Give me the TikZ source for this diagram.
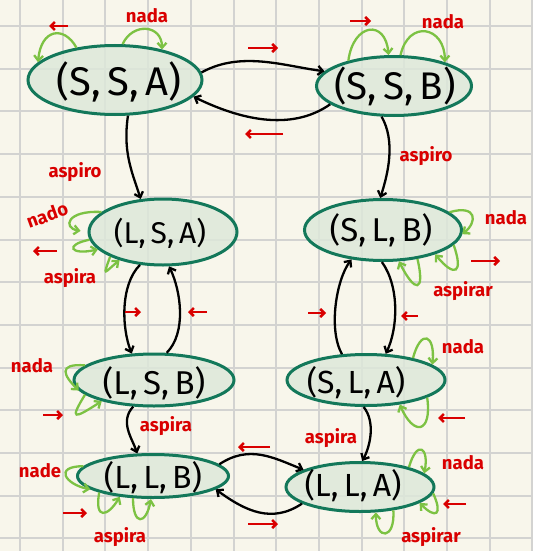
\documentclass[tikz,border=0pt]{standalone}
\usepackage{fontspec}
\setmainfont{Fira Sans}
\usetikzlibrary{arrows.meta,shapes.geometric}
\definecolor{bg}{HTML}{F8F6EB}
\definecolor{gridc}{HTML}{D3D3D1}
\definecolor{ellfill}{HTML}{DDE8DA}
\definecolor{elldraw}{HTML}{13785A}
\definecolor{loopc}{HTML}{7CC243}
\definecolor{redc}{HTML}{D90000}
\begin{document}
\begin{tikzpicture}[x=1pt,y=-1pt,
 ell/.style={ellipse, draw=elldraw, line width=3pt, fill=ellfill, fill opacity=0.85, draw opacity=1, inner sep=0pt},
 st/.style={font=\fontsize{#1}{#1}\selectfont, text=black, inner sep=0pt},
 edge/.style={draw=black, line width=2.3pt, -{Straight Barb[length=5pt,width=9pt]}},
 loopy/.style={draw=loopc, line width=2.3pt, -{Straight Barb[length=5pt,width=9pt]}},
 rarr/.style={draw=redc, line width=2.5pt, -{Straight Barb[length=4pt,width=8pt]}},
 lab/.style={text=redc, font=\fontsize{18.5}{18.5}\selectfont\bfseries, inner sep=0pt}]
\useasboundingbox (0,0) rectangle (533,551);
\fill[bg] (0,0) rectangle (533,551);
\foreach \i in {0,...,12} {
  \draw[gridc, line width=2pt] ({20+42.7*\i},0) -- ({20+42.7*\i},551);
  \draw[gridc, line width=2pt] (0,{26+42.7*\i}) -- (533,{26+42.7*\i});
}
% states
\node[ell, minimum width=174pt, minimum height=69pt] (ssa) at (115,80) {};
\node[ell, minimum width=155pt, minimum height=59pt] (ssb) at (394,86) {};
\node[ell, minimum width=148pt, minimum height=66pt] (lsa) at (163,232) {};
\node[ell, minimum width=157pt, minimum height=61pt] (slb) at (383,230) {};
\node[ell, minimum width=160pt, minimum height=52pt] (lsb) at (154,380) {};
\node[ell, minimum width=158pt, minimum height=51pt] (sla) at (366,380) {};
\node[ell, minimum width=151pt, minimum height=43pt] (llb) at (153,476) {};
\node[ell, minimum width=148pt, minimum height=49pt] (lla) at (360,487) {};
\node[st=40] (tssa) at (119,82) {(S,\,S,\,A)};
\node[st=38.5] (tssb) at (395,86) {(S,\,S,\,B)};
\node[st=30] (tlsa) at (160,233) {(L,\,S,\,A)};
\node[st=33] (tslb) at (381,230) {(S,\,L,\,B)};
\node[st=33] (tlsb) at (154,383) {(L,\,S,\,B)};
\node[st=32] (tsla) at (356,383) {(S,\,L,\,A)};
\node[st=32] (tllb) at (153,478) {(L,\,L,\,B)};
\node[st=32] (tlla) at (353,486) {(L,\,L,\,A)};
% transitions
\draw[edge] (ssa.5) .. controls +(40,-22) and +(-40,-5) .. (ssb.168);
\draw[edge] (ssb.196) .. controls +(-40,28) and +(45,22) .. (ssa.-12);
\draw[edge] (ssa.-70) .. controls +(-5,35) and +(-10,-30) .. (lsa.124);
\draw[edge] (ssb.-112) .. controls +(14,25) and +(8,-25) .. (slb.95);
\draw[edge] (lsa.-125) .. controls +(-20,20) and +(-10,-25) .. (lsb.130);
\draw[edge] (lsb.65) .. controls +(20,-20) and +(12,25) .. (lsa.-80);
\draw[edge] (sla.133) .. controls +(-14,-25) and +(-15,20) .. (slb.-137);
\draw[edge] (slb.-92) .. controls +(18,25) and +(12,-25) .. (sla.53);
\draw[edge] (lsb.-128) .. controls +(-14,15) and +(-5,-15) .. (llb.125);
\draw[edge] (sla.-95) .. controls +(12,15) and +(8,-15) .. (lla.85);
\draw[edge] (llb.10) .. controls +(30,-20) and +(-30,-12) .. (lla.163);
\draw[edge] (lla.196) .. controls +(-30,20) and +(30,22) .. (llb.-12);
% self loops
\draw[loopy] (ssa.140) .. controls +(-12,-22) and +(3,-34) .. (ssa.167);
\draw[loopy] (ssa.78) .. controls +(10,-22) and +(0,-25) .. (ssa.33);
\draw[loopy] (ssb.151) .. controls +(5,-38) and +(-3,-36) .. (ssb.100);
\draw[loopy] (ssb.78) .. controls +(8,-36) and +(0,-36) .. (ssb.25);
\draw[loopy, shorten >=7pt] (lsa.162) .. controls +(-35,-2) and +(-25,-4) .. (lsa.180);
\draw[loopy] (lsa.186) .. controls +(-25,5) and +(-28,6) .. (lsa.195);
\draw[loopy] (lsa.205) .. controls +(-8,22) and +(-15,12) .. (lsa.213);
\draw[loopy] (slb.15) .. controls +(28,-8) and +(15,-12) .. (slb.-3);
\draw[loopy] (slb.-12) .. controls +(10,28) and +(20,24) .. (slb.-25);
\draw[loopy] (slb.-40) .. controls +(8,34) and +(16,32) .. (slb.-63);
\draw[loopy] (lsb.168) .. controls +(-28,-2) and +(-15,-15) .. (lsb.188);
\draw[loopy] (lsb.192) .. controls +(-16,26) and +(-28,18) .. (lsb.202);
\draw[loopy] (sla.25) .. controls +(8,-30) and +(3,-30) .. (sla.13);
\draw[loopy] (sla.-16) .. controls +(5,36) and +(14,32) .. (sla.-36);
\draw[loopy] (llb.172) .. controls +(-30,0) and +(-25,-5) .. (llb.192);
\draw[loopy] (llb.197) .. controls +(-5,28) and +(-12,20) .. (llb.212);
\draw[loopy] (llb.228) .. controls +(0,28) and +(-5,26) .. (llb.265);
\draw[loopy] (lla.22) .. controls +(8,-28) and +(5,-26) .. (lla.12);
\draw[loopy] (lla.-5) .. controls +(10,22) and +(16,16) .. (lla.-15);
\draw[loopy] (lla.-35) .. controls +(2,30) and +(0,28) .. (lla.-58);
% red direction arrows
\draw[rarr] (68,26) -- (49,26);
\draw[rarr] (248,48) -- (278,48);
\draw[rarr] (283,134) -- (245,134);
\draw[rarr] (350,21) -- (371,21);
\draw[rarr] (57,251) -- (33,251);
\draw[rarr] (125,312) -- (141,312);
\draw[rarr] (207,312) -- (188,312);
\draw[rarr] (308,313) -- (326,313);
\draw[rarr] (418,316) -- (401,316);
\draw[rarr] (471,261) -- (500,261);
\draw[rarr] (43,415) -- (63,415);
\draw[rarr] (465,418) -- (438,418);
\draw[rarr] (63,513) -- (87,513);
\draw[rarr] (466,504) -- (443,504);
\draw[rarr] (270,447) -- (238,447);
\draw[rarr] (248,524) -- (278,524);
% labels
\node[lab] (l1) at (147,16) {nada};
\node[lab] (l2) at (75,172) {aspiro};
\node[lab] (l3) at (443,22) {nada};
\node[lab] (l4) at (426,156) {aspiro};
\node[lab, rotate=20] (l5) at (47,215) {nado};
\node[lab] (l6) at (70,278) {aspira};
\node[lab] (l7) at (506,218) {nada};
\node[lab] (l8) at (463,291) {aspirar};
\node[lab] (l9) at (32,366) {nada};
\node[lab] (l10) at (166,426) {aspira};
\node[lab] (l11) at (463,347) {nada};
\node[lab] (l12) at (331,438) {aspira};
\node[lab] (l13) at (40,471) {nade};
\node[lab] (l14) at (120,537) {aspira};
\node[lab] (l15) at (463,463) {nada};
\node[lab] (l16) at (431,537) {aspirar};
\end{tikzpicture}
\end{document}
